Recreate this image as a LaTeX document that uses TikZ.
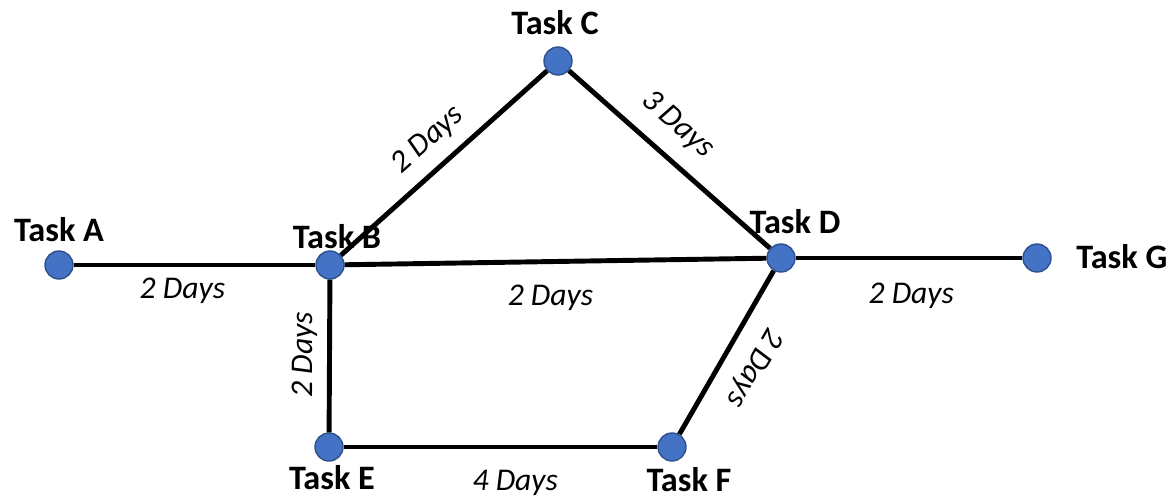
\documentclass[tikz,border=0pt]{standalone}
\usepackage{fontspec}
\setmainfont{Carlito}

\definecolor{taskfill}{HTML}{4472C4}
\definecolor{taskrim}{HTML}{2F528F}

\tikzset{
  task/.style={circle, fill=taskfill, draw=taskrim, line width=0.8pt,
    minimum size=0.56cm, inner sep=0pt},
  tasklbl/.style={font=\fontsize{19.5}{22}\selectfont\bfseries, inner sep=0pt,
    text height=12.3pt, text depth=0pt},
  days/.style={font=\fontsize{18}{20}\selectfont\itshape, inner sep=0pt,
    text height=11.6pt, text depth=0pt},
  link/.style={line width=2.8pt}
}

\begin{document}
\begin{tikzpicture}[x=0.02cm, y=-0.02cm]

  \useasboundingbox (0,0) rectangle (1175,496);

  % Tasks
  \node[task] (A) at (59,265) {};
  \node[task] (B) at (330,265) {};
  \node[task] (C) at (558,61) {};
  \node[task] (D) at (781,258) {};
  \node[task] (G) at (1037,258) {};
  \node[task] (E) at (329,447) {};
  \node[task] (F) at (672,447) {};

  % Task names
  \node[tasklbl] (labA) at (59,231) {Task A};
  \node[tasklbl] (labB) at (337,237.5) {Task B};
  \node[tasklbl] (labC) at (555,24) {Task C};
  \node[tasklbl] (labD) at (795,222.5) {Task D};
  \node[tasklbl, anchor=west] (labG) at (1076,258) {Task G};
  \node[tasklbl] (labE) at (332,479) {Task E};
  \node[tasklbl] (labF) at (689,481) {Task F};

  % Links with durations
  \draw[link] (A) -- node[days, pos=0.45, below=5.8pt] {2 Days} (B);
  \draw[link] (B) -- node[days, pos=0.512, sloped, above=10pt] {2 Days} (C);
  \draw[link] (C) -- node[days, pos=0.437, sloped, above=12pt] {3 Days} (D);
  \draw[link] (B) -- node[days, pos=0.488, below=11.8pt] {2 Days} (D);
  \draw[link] (D) -- node[days, pos=0.51, below=12.9pt] {2 Days} (G);
  \draw[link] (E) -- node[days, pos=0.508, sloped, above=8.4pt] {2 Days} (B);
  \draw[link] (E) -- node[days, pos=0.547, below=11.8pt] {4 Days} (F);
  \draw[link] (D) -- node[days, pos=0.497, sloped, allow upside down,
    above=12pt] {2 Days} (F);

\end{tikzpicture}
\end{document}
